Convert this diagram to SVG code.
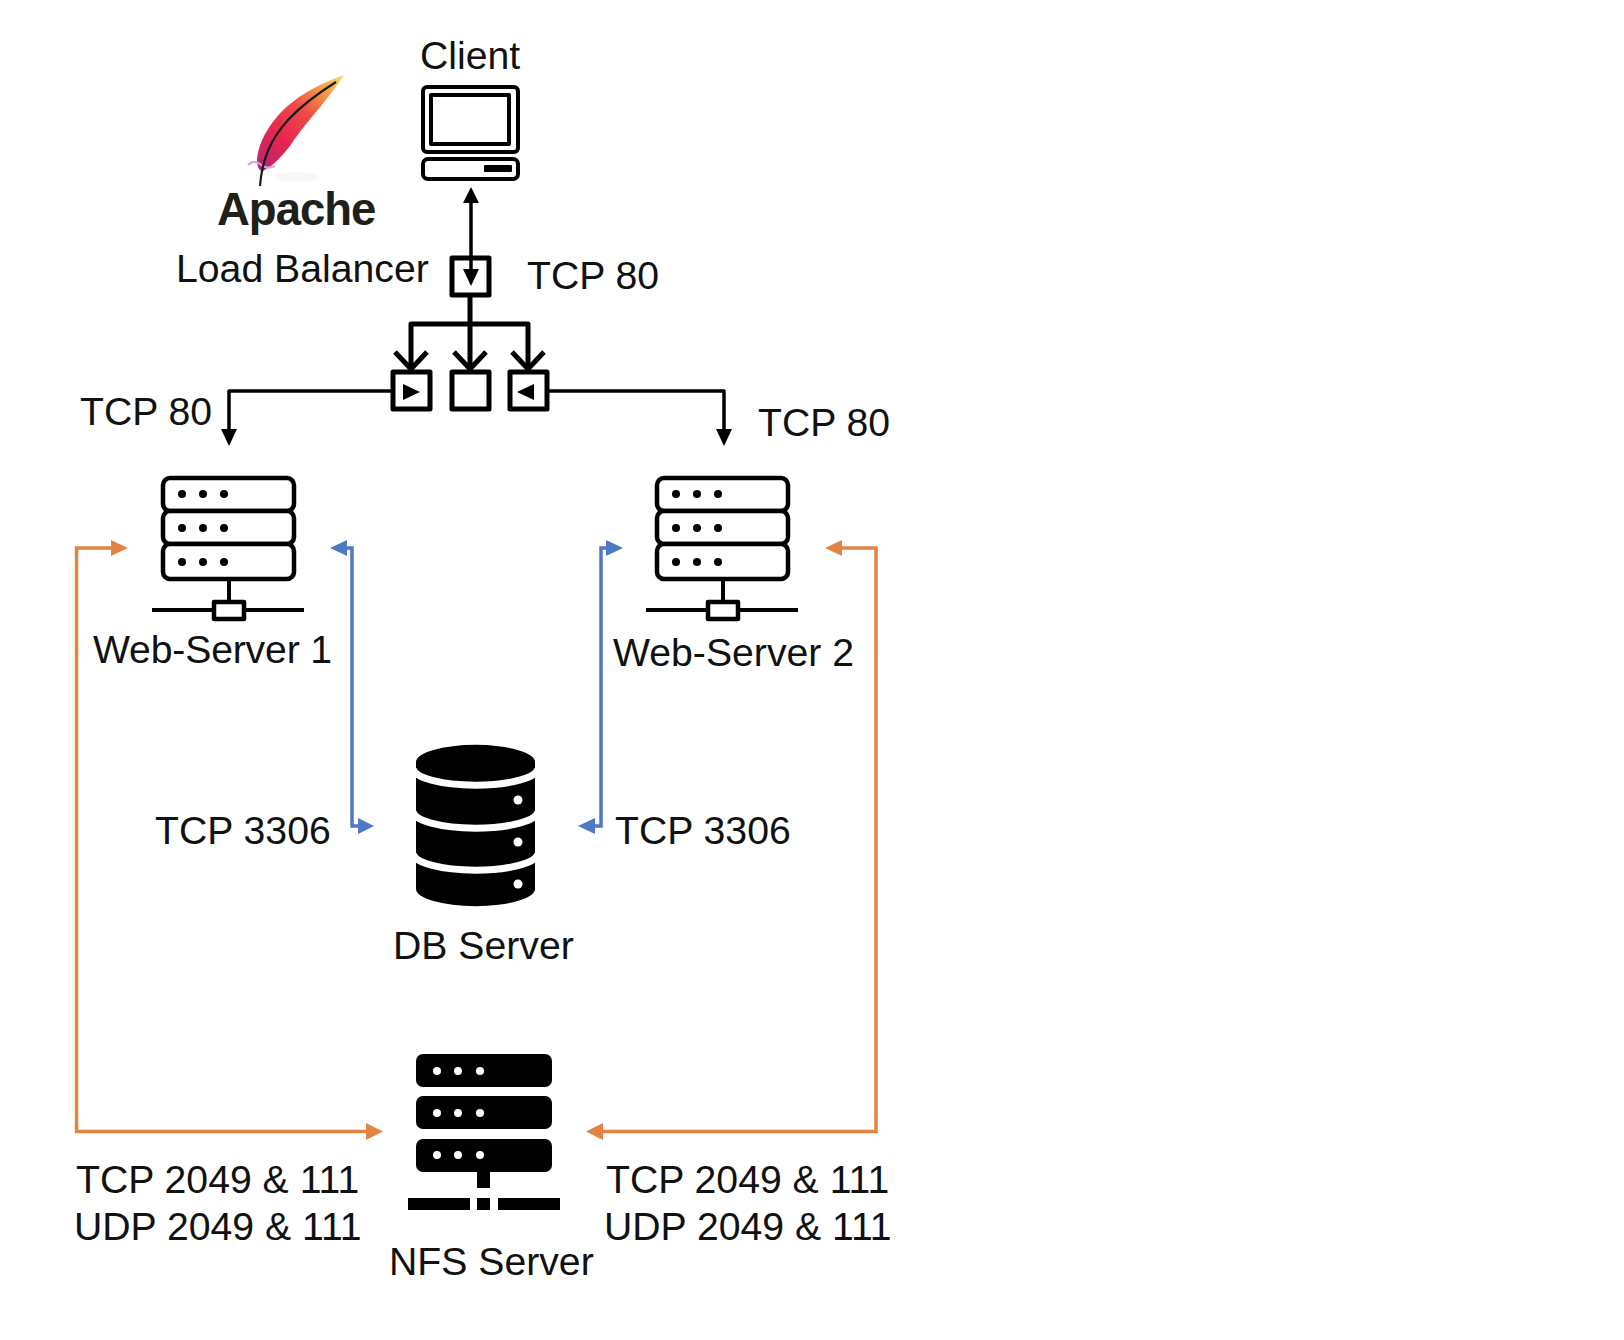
<svg xmlns="http://www.w3.org/2000/svg" width="1624" height="1340" viewBox="0 0 1624 1340">
<style>
text{font-family:"Liberation Sans",Arial,sans-serif;font-size:39.2px;fill:#111}
.k{fill:none;stroke:#000;stroke-linejoin:round}
.w{fill:#fff;stroke:#000;stroke-width:4.5;stroke-linejoin:round}
.o{fill:none;stroke:#E38445;stroke-width:3.5}
.b{fill:none;stroke:#4F78C6;stroke-width:3.5}
.d{fill:#000}
.h{fill:#fff}
</style>
<defs>
<linearGradient id="feather" gradientUnits="userSpaceOnUse" x1="344" y1="74" x2="256" y2="172">
<stop offset="0" stop-color="#F7E36B"/><stop offset=".2" stop-color="#F49A45"/><stop offset=".42" stop-color="#EE4A48"/><stop offset=".68" stop-color="#E8254F"/><stop offset=".88" stop-color="#C8246A"/><stop offset="1" stop-color="#8E2C93"/>
</linearGradient>
<g id="webserver">
<rect class="w" x="163" y="478" width="131" height="33" rx="7"/>
<rect class="w" x="163" y="511" width="131" height="33" rx="7"/>
<rect class="w" x="163" y="544" width="131" height="35" rx="7"/>
<g class="d"><circle cx="182" cy="494" r="4"/><circle cx="203" cy="494" r="4"/><circle cx="224" cy="494" r="4"/><circle cx="182" cy="528" r="4"/><circle cx="203" cy="528" r="4"/><circle cx="224" cy="528" r="4"/><circle cx="182" cy="562" r="4"/><circle cx="203" cy="562" r="4"/><circle cx="224" cy="562" r="4"/></g>
<path class="k" stroke-width="4" d="M229 580V602M152 610H304"/>
<rect class="w" x="214" y="602" width="30" height="17"/>
</g>
</defs>

<g id="connectors">
<g class="k" stroke-width="3.5"><path d="M471 200V272"/><path d="M392 391H229V432"/><path d="M545 391H724V432"/></g>
<g class="k" stroke-width="5"><path d="M470 296V368"/><path d="M411 368V324H528V368"/><path d="M395 352L411 369L427 352"/><path d="M454 352L470 369L486 352"/><path d="M512 352L528 369L544 352"/></g>
<g class="d"><path d="M471 187L463 203H479Z"/><path d="M229 446L221 429H237Z"/><path d="M724 446L716 429H732Z"/></g>
<path class="o" d="M111 548H76.5V1131.5H366"/><path class="o" d="M841 548H876V1131.5H602"/>
<g fill="#E38445"><path d="M128 548L111 540V556Z"/><path d="M383 1131.5L366 1123V1140Z"/><path d="M825 548L842 540V556Z"/><path d="M586 1131.5L603 1123V1140Z"/></g>
<path class="b" d="M345 548H352V826H359"/><path class="b" d="M610 548H601V826H595"/>
<g fill="#4F78C6"><path d="M330 548L347 540V556Z"/><path d="M374 826L358 818V834Z"/><path d="M623 548L606 540V556Z"/><path d="M578 826L595 818V834Z"/></g>
</g>

<g id="client">
<text x="420" y="69">Client</text>
<rect class="k" stroke-width="4" x="423" y="87" width="95" height="65" rx="4"/>
<rect class="k" stroke-width="4" x="431" y="95" width="78" height="49"/>
<rect class="k" stroke-width="4" x="423" y="159" width="95" height="20" rx="5"/>
<rect class="d" x="484" y="165" width="28" height="7" rx="1"/>
</g>

<g id="apache">
<ellipse cx="297" cy="177" rx="22" ry="5" fill="#f7f7f3"/>
<path d="M344 75C322 83 294 96 276 118C264 133 258 146 257 160C257 167 259 171 263 171C273 166 284 155 294 140C308 120 326 102 344 75Z" fill="url(#feather)"/>
<path d="M248 165C252 161 256 161 260 164C264 168 270 168 275 166" fill="none" stroke="#D9A6D6" stroke-width="2"/>
<path d="M260 186C262 160 270 140 288 120C302 105 320 92 336 82" fill="none" stroke="#1a1a1a" stroke-width="2.2"/>
<text x="217" y="225" style="font-size:45.5px;font-weight:bold;letter-spacing:-1px;fill:#20201b">Apache</text>
<text x="176" y="282">Load Balancer</text>
</g>

<g id="load-balancer">
<rect class="k" stroke-width="5" x="452" y="258" width="37" height="37"/>
<path class="d" d="M471 286L463 269H479Z"/>
<text x="527" y="289">TCP 80</text>
</g>

<g id="splitter">
<rect class="k" stroke-width="5" x="393" y="372" width="37" height="37"/>
<rect class="k" stroke-width="5" x="452" y="372" width="37" height="37"/>
<rect class="k" stroke-width="5" x="510" y="372" width="37" height="37"/>
<path class="d" d="M420 392L403 384V400Z"/>
<path class="d" d="M517 392L534 384V400Z"/>
</g>

<g id="web-server-1">
<use href="#webserver"/>
<text x="93" y="663" textLength="239">Web-Server 1</text>
<text x="80" y="425">TCP 80</text>
</g>

<g id="web-server-2">
<use href="#webserver" x="494"/>
<text x="613" y="666">Web-Server 2</text>
<text x="758" y="436">TCP 80</text>
</g>

<g id="db-server">
<path class="d" d="M416 762A59 17 0 0 1 535 762V889A59 17 0 0 1 416 889Z"/>
<g fill="none" stroke="#fff" stroke-width="7"><path d="M413 768A62 17 0 0 0 538 768"/><path d="M413 811A62 17 0 0 0 538 811"/><path d="M413 853A62 17 0 0 0 538 853"/></g>
<circle class="h" cx="518" cy="800" r="4.5"/><circle class="h" cx="518" cy="842" r="4.5"/><circle class="h" cx="518" cy="884" r="4.5"/>
<text x="393" y="959">DB Server</text>
<text x="155" y="844">TCP 3306</text>
<text x="615" y="844">TCP 3306</text>
</g>

<g id="nfs-server">
<rect class="d" x="416" y="1054" width="136" height="33" rx="7"/>
<rect class="d" x="416" y="1096" width="136" height="33" rx="7"/>
<rect class="d" x="416" y="1139" width="136" height="33" rx="7"/>
<g class="h"><circle cx="437" cy="1071" r="4"/><circle cx="458" cy="1071" r="4"/><circle cx="480" cy="1071" r="4"/><circle cx="437" cy="1113" r="4"/><circle cx="458" cy="1113" r="4"/><circle cx="480" cy="1113" r="4"/><circle cx="437" cy="1155" r="4"/><circle cx="458" cy="1155" r="4"/><circle cx="480" cy="1155" r="4"/></g>
<rect class="d" x="477" y="1172" width="13" height="16"/>
<rect class="d" x="408" y="1198" width="62" height="12"/><rect class="d" x="477" y="1198" width="13" height="12"/><rect class="d" x="498" y="1198" width="62" height="12"/>
<text x="389" y="1275">NFS Server</text>
<text x="76" y="1193">TCP 2049 &amp; 111</text>
<text x="74" y="1240">UDP 2049 &amp; 111</text>
<text x="606" y="1193">TCP 2049 &amp; 111</text>
<text x="604" y="1240">UDP 2049 &amp; 111</text>
</g>
</svg>
